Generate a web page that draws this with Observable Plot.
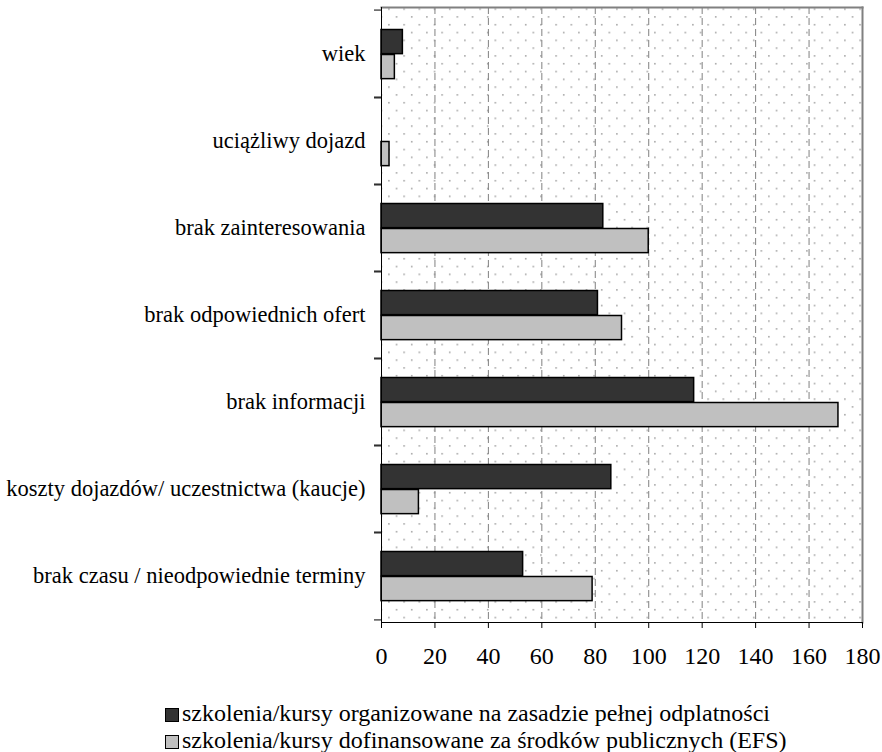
<!DOCTYPE html>
<html><head><meta charset="utf-8">
<script src="https://cdn.jsdelivr.net/npm/d3@7"></script>
<script src="https://cdn.jsdelivr.net/npm/@observablehq/plot@0.6"></script>
<style>
body{margin:0;background:#fff;font-family:"Liberation Serif","Times New Roman",serif;}
#legend{padding-left:165px;margin-top:10px;font-size:24px;line-height:27px;color:#000;white-space:nowrap}
.sw{display:inline-block;width:12px;height:12px;border:1.5px solid #000;margin-right:3px;vertical-align:-1px}
</style></head><body>
<div id="chart"></div><div id="legend"></div>
<script>
const categories = ["wiek","uciążliwy dojazd","brak zainteresowania","brak odpowiednich ofert","brak informacji","koszty dojazdów/ uczestnictwa (kaucje)","brak czasu / nieodpowiednie terminy"];
const seriesNames = ["szkolenia/kursy organizowane na zasadzie pełnej odplatności","szkolenia/kursy dofinansowane za środków publicznych (EFS)"];
const seriesColors = ["#333333","#c0c0c0"];
const paidValues = [8,0,83,81,117,86,53];
const efsValues = [5,3,100,90,171,14,79];
const xTicks = [0,20,40,60,80,100,120,140,160,180];

const rows = categories.map((c,i)=>({category:c, paid:paidValues[i], efs:efsValues[i]}));

const W=882, H=690, mt=7, mb=68, ml=381, mr=20;
const step=(H-mt-mb)/categories.length;
const pad=0.222*step, bh=0.2845*step;

const svg = Plot.plot({
  width:W, height:H, marginTop:mt, marginBottom:mb, marginLeft:ml, marginRight:mr,
  style:{fontFamily:'"Liberation Serif","Times New Roman",serif', fontSize:"24px", color:"#000", background:"#fff"},
  x:{domain:[xTicks[0], xTicks[xTicks.length-1]], axis:null},
  y:{domain:categories, padding:0, axis:null},
  marks:[
    Plot.frame({fill:"url(#dots)"}),
    Plot.ruleX(xTicks.slice(1,-1), {stroke:"#808080", strokeDasharray:"7,4", strokeWidth:1}),
    Plot.barX(rows.filter(d=>d.paid>0), {y:"category", x:"paid", fill:seriesColors[0], stroke:"#000", strokeWidth:1.5, insetTop:pad, insetBottom:step-pad-bh}),
    Plot.barX(rows.filter(d=>d.efs>0), {y:"category", x:"efs", fill:seriesColors[1], stroke:"#000", strokeWidth:1.5, insetTop:pad+bh, insetBottom:step-pad-2*bh}),
    Plot.frame({anchor:"top", stroke:"#808080", strokeWidth:2}),
    Plot.frame({anchor:"right", stroke:"#808080", strokeWidth:2}),
    Plot.ruleX([0], {stroke:"#000", strokeWidth:1}),
    Plot.frame({anchor:"bottom", stroke:"#000", strokeWidth:1}),
    Plot.axisX({ticks:xTicks, tickSize:6, tickPadding:18, tickFormat:d=>String(d), label:null}),
    Plot.axisY({tickSize:0, tickPadding:16, fontSize:22.5, label:null}),
    Plot.axisY({tickSize:7, tickFormat:()=>"", dy:-step/2, label:null}),
    Plot.axisY({tickSize:7, tickFormat:()=>"", dy:step/2, label:null})
  ]
});

const ns="http://www.w3.org/2000/svg";
const defs=document.createElementNS(ns,"defs");
defs.innerHTML='<pattern id="dots" patternUnits="userSpaceOnUse" width="15.2" height="15.6"><rect width="15.2" height="15.6" fill="#fff"/><rect x="0" y="0" width="1.6" height="1.6" fill="#a8a8a8"/><rect x="7.6" y="7.8" width="1.6" height="1.6" fill="#a8a8a8"/></pattern>';
svg.insertBefore(defs, svg.firstChild);
document.getElementById("chart").appendChild(svg);

const legend=document.getElementById("legend");
seriesNames.forEach((n,i)=>{
  const div=document.createElement("div");
  const sw=document.createElement("span");
  sw.className="sw"; sw.style.background=seriesColors[i];
  div.appendChild(sw);
  div.appendChild(document.createTextNode(n));
  legend.appendChild(div);
});
</script>
</body></html>
